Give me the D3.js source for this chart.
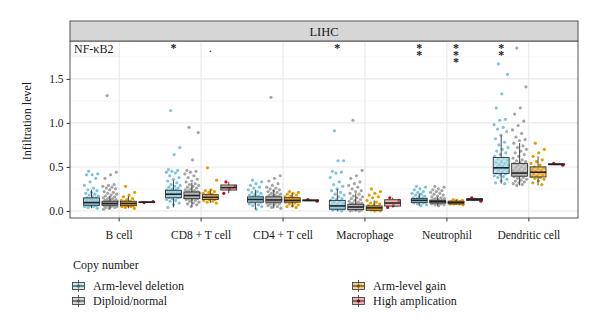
<!DOCTYPE html>
<html>
<head>
<meta charset="utf-8">
<script src="https://cdn.jsdelivr.net/npm/d3@7"></script>
<style>
  body { margin: 0; background: #fff; }
  svg text { font-family: 'Liberation Serif', 'Times New Roman', Times, 'DejaVu Serif', serif !important; fill: #1a1a1a; }
</style>
</head>
<body>
<div id="content"></div>
<script>
const width = 600;
const height = 329;
const serif = "'Liberation Serif', 'Times New Roman', Times, 'DejaVu Serif', serif";

const cells = ['B cell', 'CD8 + T cell', 'CD4 + T cell', 'Macrophage', 'Neutrophil', 'Dendritic cell'];
const groups = ['Arm-level deletion', 'Diploid/normal', 'Arm-level gain', 'High amplication'];
const yTicks = [0, 0.5, 1, 1.5];
const yMinor = [0.25, 0.75, 1.25, 1.75];

// box stats per cell: [lower whisker, q1, median, q3, upper whisker]
const boxDeletion = [
    [0.03, 0.065, 0.095, 0.148, 0.24],
    [0.04, 0.15, 0.19, 0.235, 0.35],
    [0.02, 0.10, 0.13, 0.16, 0.24],
    [0.00, 0.02, 0.057, 0.12, 0.25],
    [0.06, 0.095, 0.12, 0.14, 0.20],
    [0.31, 0.425, 0.49, 0.607, 0.86]
];
const boxDiploid = [
    [0.02, 0.065, 0.085, 0.11, 0.17],
    [0.05, 0.14, 0.175, 0.215, 0.32],
    [0.03, 0.10, 0.125, 0.16, 0.24],
    [0.00, 0.015, 0.045, 0.076, 0.20],
    [0.06, 0.09, 0.105, 0.12, 0.16],
    [0.29, 0.395, 0.43, 0.54, 0.77]
];
const boxGain = [
    [0.03, 0.06, 0.085, 0.11, 0.17],
    [0.09, 0.13, 0.155, 0.185, 0.24],
    [0.04, 0.10, 0.12, 0.15, 0.20],
    [0.00, 0.008, 0.035, 0.057, 0.12],
    [0.07, 0.08, 0.095, 0.11, 0.13],
    [0.29, 0.386, 0.44, 0.50, 0.62]
];
const boxAmp = [
    [0.095, 0.0975, 0.10, 0.1025, 0.105],
    [0.20, 0.2375, 0.265, 0.295, 0.33],
    [0.11, 0.115, 0.12, 0.125, 0.13],
    [0.04, 0.055, 0.09, 0.1275, 0.15],
    [0.11, 0.12, 0.13, 0.14, 0.15],
    [0.52, 0.525, 0.53, 0.535, 0.54]
];

// individual samples per cell
const ptsDeletion = [
    [0.45,0.42,0.41,0.41,0.37,0.33,0.29,0.26,0.24,0.23,0.21,0.20,0.19,0.18,0.17,0.16,0.15,0.15,0.14,0.14,0.13,0.13,0.12,0.12,0.11,0.11,0.10,0.10,0.10,0.09,0.09,0.09,0.08,0.08,0.08,0.07,0.07,0.07,0.06,0.06,0.05,0.05,0.04,0.03],
    [1.14,0.72,0.64,0.47,0.46,0.45,0.44,0.43,0.40,0.38,0.36,0.34,0.32,0.30,0.29,0.28,0.27,0.26,0.25,0.24,0.24,0.23,0.22,0.22,0.21,0.21,0.20,0.20,0.19,0.19,0.19,0.18,0.18,0.17,0.17,0.16,0.16,0.15,0.15,0.14,0.13,0.12,0.11,0.09,0.07,0.04],
    [0.35,0.33,0.31,0.29,0.27,0.26,0.24,0.22,0.21,0.20,0.19,0.18,0.17,0.17,0.16,0.16,0.15,0.15,0.14,0.14,0.14,0.13,0.13,0.13,0.12,0.12,0.12,0.11,0.11,0.10,0.10,0.09,0.08,0.07,0.06,0.05,0.02],
    [0.91,0.57,0.57,0.45,0.44,0.43,0.38,0.33,0.30,0.28,0.25,0.23,0.21,0.19,0.18,0.16,0.15,0.14,0.13,0.12,0.11,0.10,0.09,0.08,0.07,0.07,0.06,0.06,0.05,0.05,0.04,0.04,0.03,0.03,0.02,0.02,0.01,0.01,0.00],
    [0.28,0.27,0.25,0.24,0.22,0.21,0.20,0.19,0.18,0.17,0.16,0.15,0.15,0.14,0.14,0.13,0.13,0.12,0.12,0.12,0.11,0.11,0.10,0.10,0.09,0.09,0.08,0.07,0.06],
    [1.67,1.55,1.33,1.17,1.04,1.03,0.98,0.95,0.93,0.90,0.86,0.82,0.78,0.75,0.72,0.70,0.68,0.66,0.64,0.62,0.60,0.59,0.58,0.56,0.55,0.54,0.53,0.52,0.51,0.50,0.49,0.49,0.48,0.47,0.46,0.45,0.44,0.43,0.42,0.41,0.40,0.39,0.38,0.36,0.34,0.32,0.31]
];
const ptsDiploid = [
    [1.31,0.44,0.41,0.37,0.30,0.29,0.28,0.27,0.26,0.25,0.24,0.22,0.21,0.20,0.19,0.18,0.17,0.16,0.15,0.15,0.14,0.13,0.13,0.12,0.12,0.11,0.11,0.11,0.10,0.10,0.10,0.10,0.09,0.09,0.09,0.09,0.08,0.08,0.08,0.08,0.08,0.07,0.07,0.07,0.07,0.06,0.06,0.06,0.05,0.05,0.04,0.04,0.03,0.02],
    [0.95,0.89,0.58,0.46,0.45,0.44,0.42,0.40,0.38,0.36,0.34,0.33,0.31,0.30,0.29,0.28,0.27,0.26,0.25,0.24,0.23,0.23,0.22,0.22,0.21,0.21,0.20,0.20,0.19,0.19,0.18,0.18,0.18,0.17,0.17,0.17,0.16,0.16,0.16,0.15,0.15,0.15,0.14,0.14,0.13,0.13,0.12,0.11,0.10,0.09,0.08,0.07,0.05],
    [1.29,0.40,0.37,0.34,0.31,0.29,0.27,0.26,0.25,0.24,0.23,0.22,0.21,0.20,0.19,0.18,0.18,0.17,0.17,0.16,0.16,0.15,0.15,0.15,0.14,0.14,0.14,0.13,0.13,0.13,0.12,0.12,0.12,0.12,0.11,0.11,0.11,0.10,0.10,0.10,0.09,0.09,0.08,0.08,0.07,0.06,0.05,0.04,0.03],
    [1.03,0.46,0.40,0.37,0.33,0.31,0.29,0.27,0.25,0.23,0.22,0.20,0.19,0.17,0.16,0.15,0.14,0.13,0.12,0.11,0.10,0.09,0.09,0.08,0.08,0.07,0.07,0.06,0.06,0.06,0.05,0.05,0.05,0.04,0.04,0.04,0.03,0.03,0.03,0.02,0.02,0.02,0.01,0.01,0.01,0.00,0.00],
    [0.28,0.27,0.25,0.24,0.23,0.22,0.21,0.20,0.19,0.18,0.17,0.16,0.15,0.14,0.14,0.13,0.13,0.12,0.12,0.12,0.11,0.11,0.11,0.11,0.10,0.10,0.10,0.10,0.09,0.09,0.09,0.09,0.08,0.08,0.07,0.07,0.06],
    [1.85,1.41,1.17,1.10,1.02,0.97,0.92,0.88,0.84,0.81,0.80,0.77,0.74,0.72,0.70,0.68,0.66,0.64,0.62,0.60,0.58,0.57,0.56,0.55,0.54,0.53,0.52,0.51,0.50,0.49,0.48,0.47,0.46,0.45,0.45,0.44,0.44,0.43,0.43,0.42,0.42,0.41,0.41,0.40,0.40,0.39,0.38,0.37,0.36,0.35,0.34,0.33,0.32,0.31,0.30,0.29]
];
const ptsGain = [
    [0.28,0.21,0.18,0.16,0.14,0.13,0.12,0.11,0.11,0.10,0.09,0.09,0.08,0.08,0.08,0.07,0.07,0.06,0.06,0.05,0.05,0.04,0.03],
    [0.49,0.35,0.24,0.23,0.22,0.21,0.20,0.19,0.18,0.17,0.17,0.16,0.16,0.15,0.15,0.14,0.14,0.13,0.13,0.12,0.11,0.10,0.09],
    [0.22,0.21,0.20,0.19,0.18,0.17,0.16,0.15,0.15,0.14,0.14,0.13,0.13,0.12,0.12,0.12,0.11,0.11,0.10,0.10,0.09,0.08,0.07,0.06,0.05,0.04],
    [0.25,0.22,0.20,0.18,0.16,0.15,0.12,0.10,0.09,0.08,0.07,0.06,0.05,0.05,0.04,0.04,0.03,0.03,0.02,0.02,0.01,0.01,0.00,0.00],
    [0.13,0.12,0.12,0.11,0.11,0.10,0.10,0.10,0.09,0.09,0.09,0.08,0.08,0.08,0.07],
    [0.77,0.70,0.66,0.62,0.58,0.56,0.54,0.52,0.50,0.49,0.48,0.47,0.46,0.45,0.44,0.43,0.42,0.41,0.40,0.39,0.38,0.37,0.36,0.34,0.32,0.30]
];
const ptsAmp = [
    [0.095,0.105],
    [0.33,0.28,0.25,0.20],
    [0.13,0.11],
    [0.15,0.12,0.06,0.04],
    [0.15,0.11],
    [0.54,0.52]
];

// significance marks: [cell index, group index, label]
const sigMarks = [
    [1, 0, '*'],
    [1, 2, '.'],
    [3, 0, '*'],
    [4, 0, '**'],
    [4, 2, '***'],
    [5, 0, '**']
];

const pointColors = ['#7fc4d8', '#a5a5a5', '#e69f00', '#cc0a12'];
const boxColors = ['#a3d4e2', '#bcbcbc', '#eaae45', '#da8289'];

const boxes = [boxDeletion, boxDiploid, boxGain, boxAmp];
const points = [ptsDeletion, ptsDiploid, ptsGain, ptsAmp];

const panel = {left: 70, right: 578, top: 41, bottom: 218};
const stripTop = 21;

const svg = d3.select('#content')
    .append('svg')
    .attr('width', width)
    .attr('height', height)
    .attr('font-family', serif);

svg.append('rect')
    .attr('width', width)
    .attr('height', height)
    .attr('fill', '#fff');

const x = d3.scaleBand()
    .domain(cells)
    .range([panel.left, panel.right])
    .paddingInner(0)
    .paddingOuter(0.1);

const xg = d3.scaleBand()
    .domain(d3.range(groups.length))
    .range([-0.45 * x.bandwidth(), 0.45 * x.bandwidth()]);

const y = d3.scaleLinear()
    .domain([-0.08, 1.93])
    .range([panel.bottom, panel.top]);

const cx = (c, g) => x(cells[c]) + x.bandwidth() / 2 + xg(g) + xg.bandwidth() / 2;

// grid
const grid = svg.append('g');
grid.selectAll('.minor')
    .data(yMinor)
    .join('line')
    .attr('x1', panel.left).attr('x2', panel.right)
    .attr('y1', d => y(d)).attr('y2', d => y(d))
    .attr('stroke', '#f2f2f2')
    .attr('stroke-width', 0.6);
grid.selectAll('.major')
    .data(yTicks)
    .join('line')
    .attr('x1', panel.left).attr('x2', panel.right)
    .attr('y1', d => y(d)).attr('y2', d => y(d))
    .attr('stroke', '#e8e8e8')
    .attr('stroke-width', 1.1);
grid.selectAll('.vmajor')
    .data(cells)
    .join('line')
    .attr('x1', d => x(d) + x.bandwidth() / 2).attr('x2', d => x(d) + x.bandwidth() / 2)
    .attr('y1', panel.top).attr('y2', panel.bottom)
    .attr('stroke', '#e8e8e8')
    .attr('stroke-width', 1.1);

// jittered samples
const jitter = i => ((i * 0.618034 + 0.31) % 1) - 0.5;
const jw = xg.bandwidth() * 0.8;
points.forEach((byCell, g) => {
    const pts = [];
    byCell.forEach((vals, c) => {
        vals.forEach((v, i) => pts.push({x: cx(c, g) + jitter(i) * jw, y: y(v)}));
    });
    svg.append('g')
        .selectAll('circle')
        .data(pts)
        .join('circle')
        .attr('cx', d => d.x)
        .attr('cy', d => d.y)
        .attr('r', 1.6)
        .attr('fill', pointColors[g]);
});

// boxplots
const bw = xg.bandwidth() * 0.86;
boxes.forEach((byCell, g) => {
    const bg = svg.append('g');
    byCell.forEach((s, c) => {
        const m = cx(c, g);
        const [lo, q1, med, q3, hi] = s;
        bg.append('line')
            .attr('x1', m).attr('x2', m)
            .attr('y1', y(hi)).attr('y2', y(q3))
            .attr('stroke', '#333').attr('stroke-width', 0.9);
        bg.append('line')
            .attr('x1', m).attr('x2', m)
            .attr('y1', y(q1)).attr('y2', y(lo))
            .attr('stroke', '#333').attr('stroke-width', 0.9);
        bg.append('rect')
            .attr('x', m - bw / 2)
            .attr('y', y(q3))
            .attr('width', bw)
            .attr('height', Math.max(0.5, y(q1) - y(q3)))
            .attr('fill', boxColors[g])
            .attr('fill-opacity', 0.6)
            .attr('stroke', '#333')
            .attr('stroke-width', 0.9);
        bg.append('line')
            .attr('x1', m - bw / 2).attr('x2', m + bw / 2)
            .attr('y1', y(med)).attr('y2', y(med))
            .attr('stroke', '#222').attr('stroke-width', 1.6);
    });
});

// significance marks, stars stacked one per line
const sig = svg.append('g');
sigMarks.forEach(([c, g, label]) => {
    const t = sig.append('text')
        .attr('x', cx(c, g))
        .attr('y', 52)
        .attr('text-anchor', 'middle')
        .attr('font-size', 12)
        .attr('fill', '#111');
    if (label === '.') {
        t.text(label);
        return;
    }
    t.attr('font-weight', 'bold');
    label.split('').forEach((s, k) => {
        t.append('tspan')
            .attr('x', cx(c, g))
            .attr('dy', k === 0 ? 0 : 6.8)
            .text(s);
    });
});

// gene label
svg.append('rect')
    .attr('x', panel.left + 1).attr('y', panel.top + 1)
    .attr('width', 48).attr('height', 14)
    .attr('fill', '#fff')
    .attr('stroke', '#e6e6e6')
    .attr('stroke-width', 0.6);
svg.append('text')
    .attr('x', panel.left + 4)
    .attr('y', panel.top + 12)
    .attr('font-size', 12)
    .text('NF-κB2');

// panel border and strip
svg.append('rect')
    .attr('x', panel.left).attr('y', panel.top)
    .attr('width', panel.right - panel.left)
    .attr('height', panel.bottom - panel.top)
    .attr('fill', 'none')
    .attr('stroke', '#555')
    .attr('stroke-width', 1);
svg.append('rect')
    .attr('x', panel.left).attr('y', stripTop)
    .attr('width', panel.right - panel.left)
    .attr('height', panel.top - stripTop)
    .attr('fill', '#d6d6d6')
    .attr('stroke', '#555')
    .attr('stroke-width', 1);
svg.append('text')
    .attr('x', (panel.left + panel.right) / 2)
    .attr('y', stripTop + 14.5)
    .attr('text-anchor', 'middle')
    .attr('font-size', 12.5)
    .text('LIHC');

// axes
const yAxis = svg.append('g')
    .attr('transform', `translate(${panel.left},0)`)
    .call(d3.axisLeft(y).tickValues(yTicks).tickFormat(d3.format('.1f')).tickSize(3.5).tickPadding(3));
const xAxis = svg.append('g')
    .attr('transform', `translate(0,${panel.bottom})`)
    .call(d3.axisBottom(x).tickSize(3.5).tickPadding(9));
[yAxis, xAxis].forEach(a => {
    a.attr('font-family', serif);
    a.select('.domain').remove();
    a.selectAll('line').attr('stroke', '#333');
    a.selectAll('text')
        .attr('font-size', 11.5)
        .attr('fill', '#333');
});

svg.append('text')
    .attr('transform', `translate(31,121) rotate(-90)`)
    .attr('text-anchor', 'middle')
    .attr('font-size', 12)
    .text('Infiltration level');

// legend
const legend = svg.append('g');
legend.append('text')
    .attr('x', 73).attr('y', 269)
    .attr('font-size', 12)
    .text('Copy number');
const legendPos = [[72, 286], [72, 301], [352, 286], [352, 301]];
groups.forEach((name, g) => {
    const [lx, ly] = legendPos[g];
    const k = legend.append('g').attr('transform', `translate(${lx + 6.5},${ly})`);
    k.append('line').attr('y1', -6).attr('y2', 6).attr('stroke', '#333').attr('stroke-width', 0.8);
    k.append('rect')
        .attr('x', -6).attr('y', -3.5).attr('width', 12).attr('height', 7)
        .attr('fill', boxColors[g]).attr('fill-opacity', 0.6)
        .attr('stroke', '#333').attr('stroke-width', 0.8);
    k.append('line').attr('x1', -6).attr('x2', 6).attr('stroke', '#222').attr('stroke-width', 1);
    k.append('circle').attr('r', 1.6).attr('fill', d3.color(pointColors[g]).darker(2));
    legend.append('text')
        .attr('x', lx + 21).attr('y', ly + 4)
        .attr('font-size', 12)
        .text(name);
});
</script>
</body>
</html>
